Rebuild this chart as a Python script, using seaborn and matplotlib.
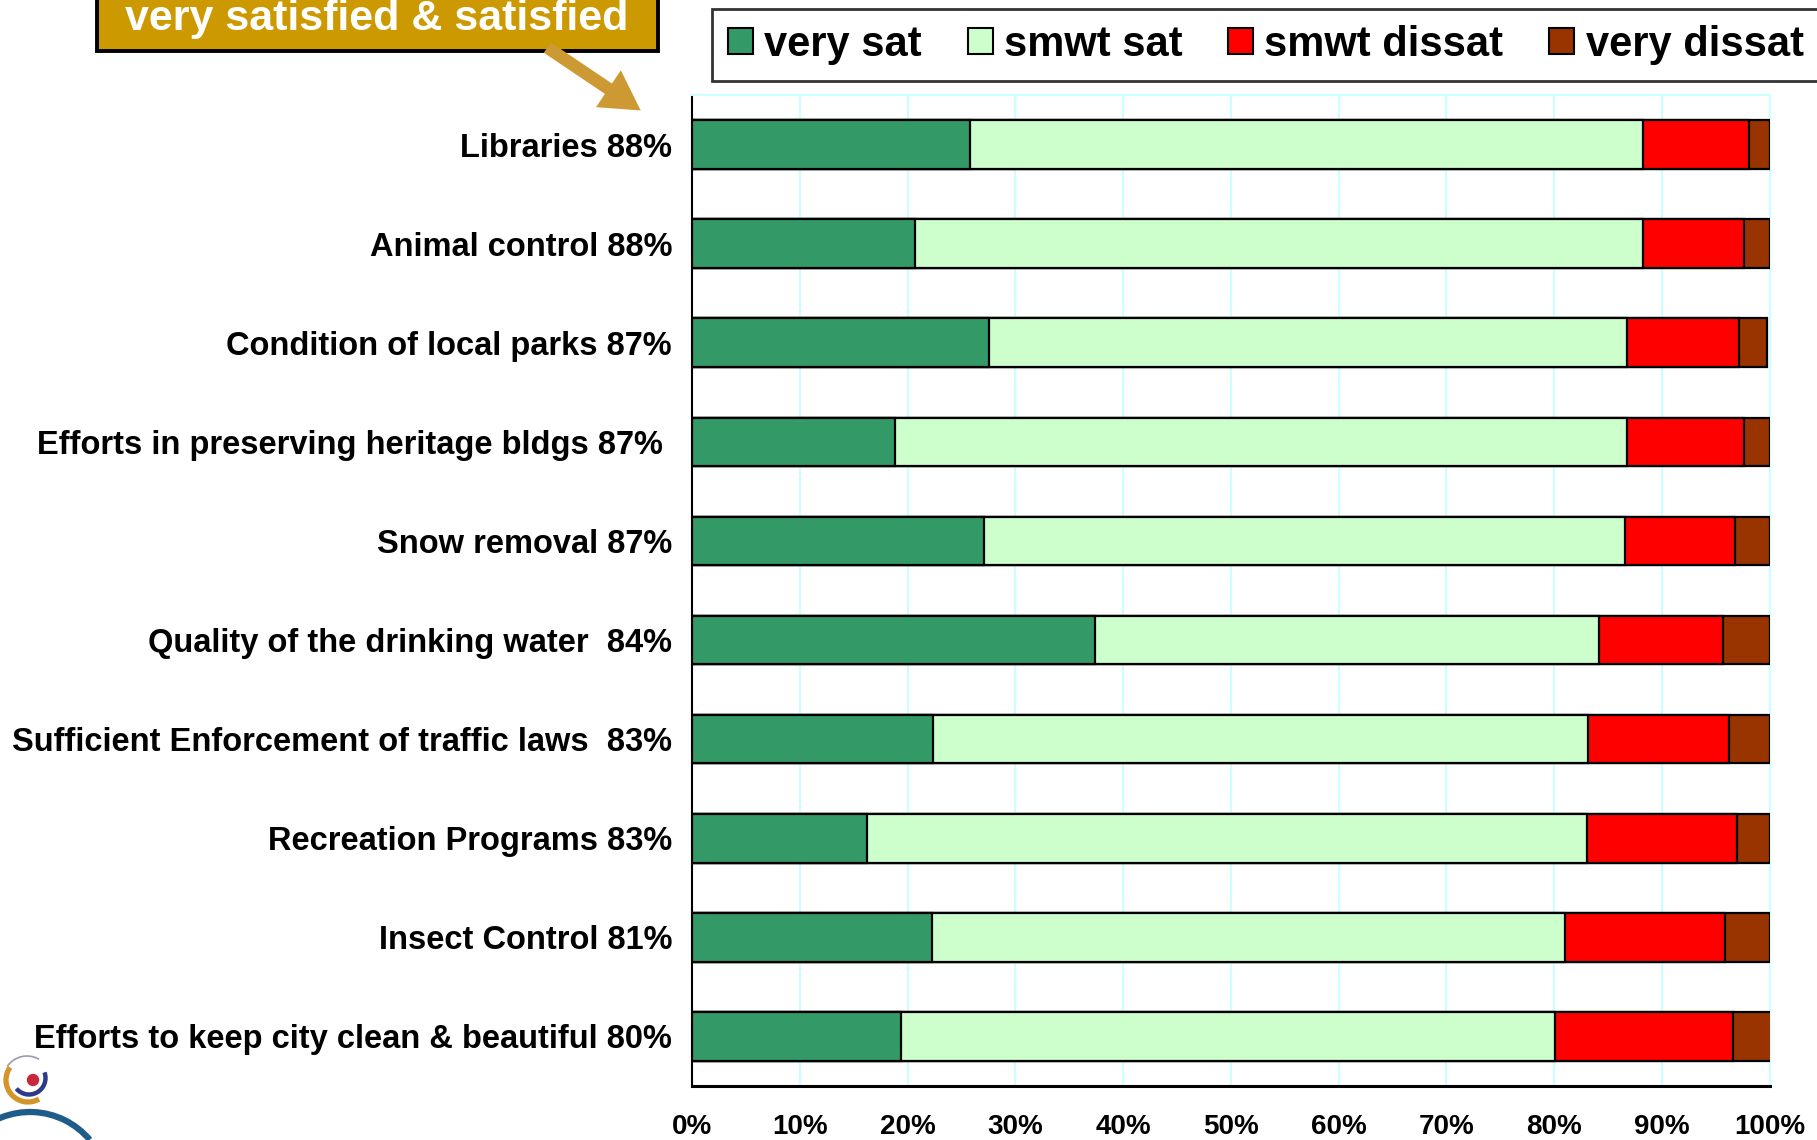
import numpy as np
import pandas as pd
import matplotlib
matplotlib.use("Agg")
import matplotlib.pyplot as plt
import seaborn as sns
from matplotlib.patches import Rectangle, FancyArrowPatch, Arc, Circle, Patch

# ---------------- data ----------------
categories = [
    "Libraries 88%",
    "Animal control 88%",
    "Condition of local parks 87%",
    "Efforts in preserving heritage bldgs 87% ",
    "Snow removal 87%",
    "Quality of the drinking water  84%",
    "Sufficient Enforcement of traffic laws  83%",
    "Recreation Programs 83%",
    "Insect Control 81%",
    "Efforts to keep city clean & beautiful 80%",
]
very_sat = [25.8, 20.7, 27.6, 18.8, 27.1, 37.4, 22.4, 16.2, 22.3, 19.4]
smwt_sat = [62.5, 67.6, 59.2, 68.0, 59.5, 46.8, 60.8, 66.9, 58.7, 60.7]
smwt_dissat = [9.8, 9.3, 10.4, 10.8, 10.2, 11.5, 13.0, 13.9, 14.9, 16.5]
very_dissat = [1.9, 2.4, 2.6, 2.4, 3.2, 4.3, 3.8, 3.0, 4.1, 3.6]

series_names = ["very sat", "smwt sat", "smwt dissat", "very dissat"]
series_colors = ["#339966", "#CCFFCC", "#FF0000", "#993300"]
x_ticks = [0, 10, 20, 30, 40, 50, 60, 70, 80, 90, 100]
x_tick_labels = ["0%", "10%", "20%", "30%", "40%", "50%", "60%", "70%", "80%", "90%", "100%"]
callout_text = "very satisfied & satisfied"

# ---------------- setup ----------------
sns.set_style("white")
plt.rcParams["font.family"] = ["Liberation Sans", "DejaVu Sans"]
plt.rcParams["font.weight"] = "bold"
plt.rcParams["text.color"] = "black"
plt.rcParams["xtick.color"] = "black"
plt.rcParams["ytick.color"] = "black"
plt.rcParams["xtick.labelcolor"] = "black"
plt.rcParams["ytick.labelcolor"] = "black"

W, H = 1817, 1140
fig = plt.figure(figsize=(W / 100, H / 100), dpi=100)
ax = fig.add_axes([692 / W, 1 - 1086 / H, (1769.5 - 692) / W, (1086 - 95) / H])

df = pd.DataFrame({
    "category": categories,
    "very sat": very_sat,
    "smwt sat": smwt_sat,
    "smwt dissat": smwt_dissat,
    "very dissat": very_dissat,
})
cum = df[series_names].cumsum(axis=1)
cum["category"] = df["category"]

# draw from the largest cumulative value to the smallest so each stacks visibly
for name, color in reversed(list(zip(series_names, series_colors))):
    sns.barplot(data=cum, x=name, y="category", color=color, saturation=1,
                edgecolor="black", linewidth=1.6, width=0.49, orient="h",
                errorbar=None, ax=ax, zorder=3)

ax.set_xlim(0, 100)
ax.set_ylim(len(categories) - 0.5, -0.5)
ax.set_xlabel("")
ax.set_ylabel("")

ax.set_xticks(x_ticks)
ax.set_xticklabels(x_tick_labels, fontsize=20, fontweight="bold", color="black")
ax.set_yticks(range(len(categories)))
ax.set_yticklabels(categories, fontsize=23.5, fontweight="bold", color="black")
ax.set_yticks(np.arange(-0.5, len(categories), 1.0), minor=True)

ax.tick_params(axis="y", which="major", length=0, pad=14.4)
ax.tick_params(axis="y", which="minor", length=4, width=1.5, direction="out", color="black")
ax.tick_params(axis="x", which="major", length=6, width=1.5, direction="out", color="black", pad=14)

ax.grid(axis="x", color="#CCFFFF", linewidth=1.5, zorder=0)
ax.grid(axis="y", visible=False)
ax.set_axisbelow(True)

ax.spines["left"].set_color("black")
ax.spines["left"].set_linewidth(1.5)
ax.spines["bottom"].set_color("black")
ax.spines["bottom"].set_linewidth(2.2)
ax.spines["top"].set_color("#CCFFFF")
ax.spines["top"].set_linewidth(1.5)
ax.spines["right"].set_color("#CCFFFF")
ax.spines["right"].set_linewidth(1.5)

# ---------------- legend ----------------
handles = [Patch(facecolor=c, edgecolor="black", linewidth=1.5) for c in series_colors]
fs_leg = 30
leg = fig.legend(handles, series_names, loc="upper left",
                 bbox_to_anchor=(712 / W, 1 - 9 / H), ncol=4,
                 prop={"family": "Liberation Sans", "weight": "bold", "size": fs_leg},
                 handlelength=0.6, handleheight=0.6, handletextpad=0.27,
                 columnspacing=1.1, borderpad=0.38, borderaxespad=0,
                 frameon=True, fancybox=False)
leg.get_frame().set_edgecolor("black")
leg.get_frame().set_linewidth(2.0)
for t in leg.get_texts():
    t.set_color("black")

# ---------------- overlay: callout box, arrow, logo ----------------
ov = fig.add_axes([0, 0, 1, 1], zorder=10)
ov.set_xlim(0, W)
ov.set_ylim(H, 0)
ov.axis("off")

ov.add_patch(Rectangle((97, -20), 561, 71, facecolor="#CC9900",
                       edgecolor="black", linewidth=2.8))
ov.text(377, 30, callout_text, color="white", fontsize=31, fontweight="bold",
        ha="center", va="baseline")
ov.add_patch(FancyArrowPatch((545, 46), (643, 112),
                             arrowstyle="simple,head_length=1.4,head_width=1.6,tail_width=0.45",
                             mutation_scale=20, color="#CC9933", linewidth=0))

# small logo at bottom-left
ov.add_patch(Arc((28, 1080), 44, 44, theta1=60, theta2=215, color="#D4942A", linewidth=3.8))
ov.add_patch(Arc((29, 1078), 33, 33, theta1=-20, theta2=140, color="#2E3A87", linewidth=3.2))
ov.add_patch(Arc((27, 1080), 48, 48, theta1=215, theta2=300, color="#9A9AB0", linewidth=1.2))
ov.add_patch(Circle((33, 1080), 5.5, color="#C8283C"))
ov.add_patch(Arc((30, 1190), 156, 156, theta1=225, theta2=320, color="#1F5C8A", linewidth=4.5))

fig.savefig("out.png", dpi=100)
